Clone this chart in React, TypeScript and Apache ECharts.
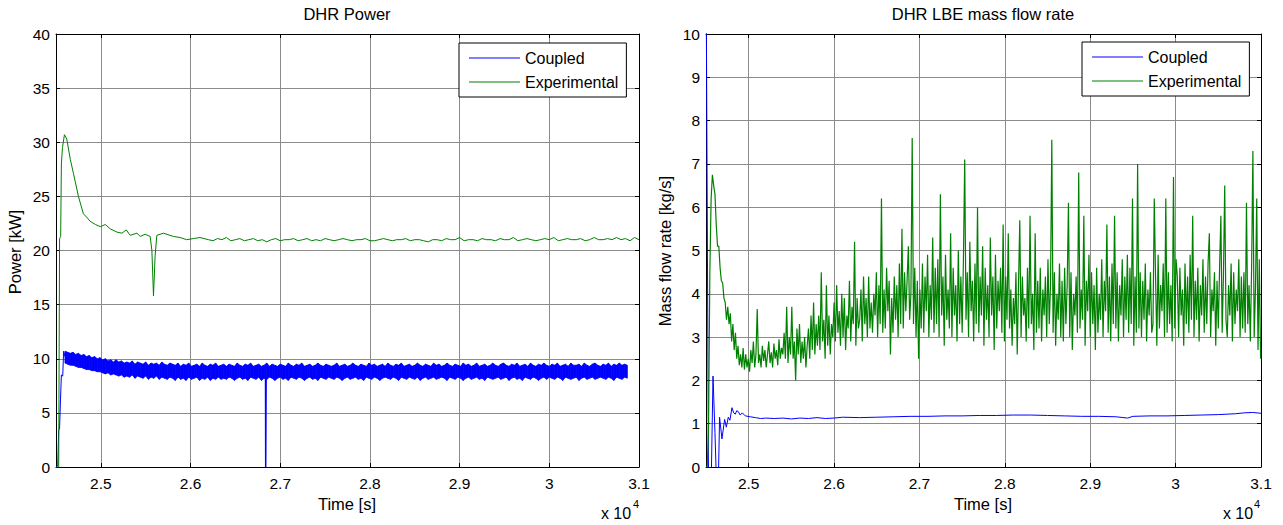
import React, { useEffect, useRef } from "react";
import * as echarts from "echarts";

// ---------- axis ranges ----------
const X_MIN = 24500;
const X_MAX = 31000;
const POWER_TICKS = [0, 5, 10, 15, 20, 25, 30, 35, 40];
const FLOW_TICKS = [0, 1, 2, 3, 4, 5, 6, 7, 8, 9, 10];
const X_TICK_LABELS = ["2.5", "2.6", "2.7", "2.8", "2.9", "3", "3.1"];

// ---------- DHR Power : Coupled ----------
const powerCoupledStart: [number, number][] = [
  [24505, 0], [24520, 0.2], [24530, 3.4], [24540, 3.6], [24550, 6.2],
  [24560, 8.5], [24575, 8.4], [24585, 10.7], [24600, 10.2],
];
// oscillation band (fast oscillation of the coupled power), envelopes read every 30 s
const powerBandT0 = 24600;
const powerBandStep = 30;
const powerBandUpper = [
  10.7, 10.6, 10.5, 10.6, 10.4, 10.5, 10.3, 10.4, 10.2, 10.3, 10.1, 10.2, 10.0, 10.1, 9.9, 10.0, 9.8, 9.9, 9.7, 9.9,
  9.7, 9.8, 9.6, 9.7, 9.6, 9.8, 9.5, 9.7, 9.6, 9.5, 9.7, 9.4, 9.6, 9.5, 9.6, 9.4, 9.7, 9.5, 9.4, 9.6,
  9.5, 9.4, 9.6, 9.3, 9.5, 9.4, 9.6, 9.3, 9.4, 9.5, 9.3, 9.6, 9.4, 9.3, 9.5, 9.4, 9.6, 9.3, 9.4, 9.5,
  9.3, 9.5, 9.4, 9.3, 9.6, 9.4, 9.3, 9.5, 9.4, 9.6, 9.3, 9.4, 9.5, 9.3, 9.4, 9.6, 9.3, 9.5, 9.4, 9.3,
  9.5, 9.4, 9.3, 9.6, 9.4, 9.3, 9.5, 9.4, 9.6, 9.3, 9.4, 9.5, 9.3, 9.4, 9.6, 9.4, 9.3, 9.5, 9.4, 9.3,
  9.4, 9.6, 9.3, 9.4, 9.5, 9.3, 9.4, 9.6, 9.4, 9.3, 9.5, 9.4, 9.3, 9.6, 9.4, 9.5, 9.3, 9.4, 9.5, 9.3,
  9.6, 9.4, 9.3, 9.5, 9.4, 9.6, 9.3, 9.4, 9.5, 9.3, 9.4, 9.6, 9.4, 9.3, 9.5, 9.4, 9.3, 9.6, 9.4, 9.5,
  9.3, 9.4, 9.6, 9.4, 9.3, 9.5, 9.4, 9.3, 9.6, 9.4, 9.5, 9.3, 9.4, 9.6, 9.3, 9.4, 9.5, 9.3, 9.4, 9.6,
  9.4, 9.3, 9.5, 9.6, 9.4, 9.3, 9.5, 9.4, 9.6, 9.3, 9.4, 9.5, 9.3, 9.6, 9.4, 9.3, 9.5, 9.4, 9.6, 9.4,
  9.3, 9.5, 9.4, 9.6, 9.3, 9.4, 9.5, 9.3, 9.6, 9.4, 9.4, 9.5, 9.3, 9.6, 9.4, 9.3, 9.5, 9.6, 9.4, 9.3,
  9.5, 9.4, 9.6, 9.3, 9.5, 9.4, 9.6, 9.4, 9.5, 9.4,
];
const powerBandLower = [
  9.6, 9.5, 9.4, 9.4, 9.3, 9.2, 9.2, 9.1, 9.0, 9.0, 8.9, 8.9, 8.8, 8.8, 8.7, 8.6, 8.7, 8.5, 8.6, 8.5,
  8.4, 8.5, 8.3, 8.4, 8.3, 8.5, 8.2, 8.4, 8.3, 8.2, 8.4, 8.1, 8.3, 8.2, 8.4, 8.1, 8.3, 8.2, 8.1, 8.3,
  8.2, 8.0, 8.3, 8.1, 8.2, 8.0, 8.3, 8.1, 8.2, 8.3, 8.0, 8.2, 8.1, 8.3, 8.0, 8.2, 8.1, 8.3, 8.1, 8.2,
  8.1, 8.3, 8.2, 8.0, 8.2, 8.3, 8.1, 8.2, 8.0, 8.3, 8.2, 8.1, 8.3, 8.0, 8.2, 8.1, 8.3, 8.2, 8.0, 8.2,
  8.3, 8.1, 8.2, 8.0, 8.3, 8.2, 8.1, 8.3, 8.2, 8.0, 8.2, 8.3, 8.1, 8.2, 8.0, 8.3, 8.2, 8.1, 8.3, 8.2,
  8.1, 8.3, 8.2, 8.0, 8.2, 8.3, 8.1, 8.2, 8.3, 8.1, 8.2, 8.0, 8.3, 8.2, 8.1, 8.3, 8.2, 8.0, 8.2, 8.3,
  8.2, 8.1, 8.3, 8.2, 8.0, 8.3, 8.2, 8.1, 8.3, 8.2, 8.1, 8.3, 8.0, 8.2, 8.3, 8.1, 8.2, 8.3, 8.1, 8.2,
  8.3, 8.2, 8.0, 8.3, 8.2, 8.1, 8.3, 8.2, 8.0, 8.2, 8.3, 8.1, 8.2, 8.3, 8.1, 8.2, 8.0, 8.3, 8.2, 8.1,
  8.2, 8.3, 8.1, 8.2, 8.3, 8.0, 8.2, 8.3, 8.1, 8.2, 8.0, 8.3, 8.2, 8.1, 8.3, 8.2, 8.0, 8.2, 8.3, 8.1,
  8.3, 8.2, 8.1, 8.3, 8.2, 8.0, 8.3, 8.2, 8.1, 8.2, 8.3, 8.0, 8.2, 8.3, 8.1, 8.2, 8.3, 8.1, 8.2, 8.3,
  8.2, 8.1, 8.3, 8.2, 8.0, 8.3, 8.2, 8.1, 8.3, 8.2,
];
const powerCoupledDrop: [number, number][] = [
  [26836, 8.3], [26838, 0], [26841, 0], [26843, 8.3],
];

// ---------- DHR Power : Experimental ----------
const powerExpStart: [number, number][] = [
  [24505, 0], [24530, 0], [24540, 21.1], [24552, 21.3], [24560, 28.0], [24572, 29.5],
  [24594, 30.7], [24620, 30.3], [24660, 28.4], [24695, 27.1], [24750, 25.0], [24805, 23.4],
  [24850, 23.0], [24880, 22.7], [24940, 22.4], [24994, 22.2], [25050, 22.4], [25105, 22.0],
  [25180, 21.7], [25235, 21.6], [25283, 21.9], [25328, 21.4], [25402, 21.6], [25439, 21.3],
  [25494, 21.5], [25550, 21.3], [25569, 20.0], [25587, 15.8], [25605, 19.5], [25624, 21.4],
  [25698, 21.6], [25809, 21.3], [25883, 21.2], [25957, 21.0], [26031, 21.1], [26105, 21.2],
];
const powerExpFlatT0 = 26150;
const powerExpFlatStep = 50;
const powerExpFlat = [
  21.1, 21.0, 20.9, 21.1, 21.0, 21.2, 20.9, 21.0, 21.1, 20.9,
  21.0, 21.1, 20.9, 21.0, 20.8, 21.0, 21.1, 20.9, 21.0, 21.0,
  21.1, 20.9, 21.0, 21.1, 20.9, 21.0, 20.9, 21.1, 21.0, 20.9,
  21.0, 21.1, 21.0, 20.9, 21.0, 21.0, 21.1, 20.9, 20.9, 21.0,
  21.1, 21.0, 20.9, 21.0, 21.0, 21.1, 20.9, 21.0, 21.0, 20.9,
  20.8, 21.0, 21.0, 20.9, 21.1, 21.0, 21.0, 21.2, 20.9, 21.0,
  21.0, 20.9, 21.1, 21.0, 21.0, 20.9, 21.1, 21.0, 21.0, 21.2,
  20.9, 21.0, 21.1, 21.0, 20.9, 21.0, 21.1, 21.0, 21.2, 20.9,
  21.0, 21.1, 21.0, 21.0, 21.1, 20.9, 21.0, 21.2, 21.0, 21.0,
  21.1, 21.0, 21.2, 21.0, 21.1, 20.9, 21.2, 21.0,
];

// ---------- DHR LBE mass flow rate : Coupled ----------
const flowCoupled: [number, number][] = [
  [24500, 12], [24530, -0.5], [24560, -0.5], [24582, 2.1], [24605, 0.8], [24625, -0.5],
  [24645, -0.3], [24659, 1.15], [24687, 0.65], [24718, 1.1], [24738, 0.92], [24761, 1.15],
  [24780, 1.08], [24804, 1.37], [24825, 1.25], [24843, 1.22], [24860, 1.3], [24878, 1.28],
  [24900, 1.2], [24925, 1.25], [24960, 1.18], [25020, 1.16], [25080, 1.14], [25140, 1.12],
  [25200, 1.13], [25300, 1.12], [25400, 1.13], [25500, 1.11], [25600, 1.13], [25700, 1.12],
  [25800, 1.14], [25900, 1.12], [26000, 1.13], [26100, 1.15], [26300, 1.14], [26500, 1.15],
  [26700, 1.16], [26900, 1.17], [27100, 1.17], [27300, 1.18], [27500, 1.18], [27700, 1.19],
  [27900, 1.19], [28100, 1.2], [28300, 1.2], [28500, 1.19], [28700, 1.18], [28900, 1.17],
  [29100, 1.17], [29300, 1.16], [29437, 1.13], [29500, 1.17], [29700, 1.18], [29900, 1.18],
  [30100, 1.19], [30300, 1.2], [30500, 1.21], [30700, 1.23], [30800, 1.25], [30900, 1.26],
  [31000, 1.24],
];

// ---------- DHR LBE mass flow rate : Experimental ----------
const flowExpT0 = 24500;
const flowExpStep = 15;
const flowExp = [
  0, 0, 1.0, 4.5, 6.2, 6.75, 6.5, 6.3, 5.6, 5.1, 5.1, 4.6, 4.3, 4.25, 3.9, 3.8, 3.4, 3.7, 3.3, 3.55,
  2.9, 3.3, 2.7, 3.1, 2.5, 2.8, 2.35, 2.6, 2.3, 2.75, 2.25, 2.6, 2.3, 2.5, 2.2, 2.7, 2.4, 2.9, 2.3, 2.6,
  3.65, 2.4, 2.6, 2.3, 2.8, 2.45, 2.7, 2.3, 2.6, 2.9, 2.4, 2.65, 2.3, 2.85, 2.5, 2.7, 2.35, 2.95, 2.5, 2.75,
  2.6, 3.1, 2.5, 3.7, 2.4, 3.0, 2.6, 3.7, 2.5, 2.9, 2.0, 3.2, 2.6, 3.3, 2.4, 2.9, 2.5, 3.0, 2.3, 2.8,
  3.2, 2.5, 3.5, 2.7, 3.8, 2.6, 3.3, 2.8, 3.5, 2.7, 4.5, 2.9, 3.4, 2.5, 4.2, 2.8, 3.5, 2.6, 3.3, 3.0,
  3.8, 2.9, 4.2, 3.1, 3.6, 2.8, 4.0, 3.0, 3.9, 2.7, 3.5, 3.2, 4.3, 2.9, 3.7, 3.3, 5.2, 2.8, 3.9, 3.2,
  3.4, 4.1, 2.9, 4.4, 3.3, 3.9, 3.0, 4.4, 3.2, 3.8, 3.1, 4.0, 3.5, 4.5, 3.0, 4.2, 3.3, 6.2, 3.1, 4.1,
  3.2, 4.6, 3.6, 4.3, 2.6, 3.9, 3.1, 4.4, 3.4, 4.2, 3.0, 4.7, 3.3, 5.5, 3.2, 4.5, 3.6, 4.3, 5.1, 3.4,
  4.0, 7.6, 3.3, 4.6, 3.0, 4.3, 2.5, 4.1, 3.2, 4.7, 3.1, 4.4, 3.6, 4.9, 3.0, 4.2, 3.4, 5.3, 3.1, 4.6,
  3.3, 4.8, 3.0, 6.3, 3.5, 4.4, 2.8, 4.9, 3.4, 4.1, 3.2, 5.4, 3.0, 4.6, 3.5, 4.2, 2.9, 5.0, 3.3, 4.4,
  3.1, 4.8, 7.1, 3.4, 4.5, 3.0, 5.2, 3.6, 4.3, 2.9, 4.7, 3.3, 6.0, 3.1, 4.4, 3.5, 5.1, 2.8, 4.6, 3.4,
  4.2, 3.0, 5.3, 3.5, 4.4, 2.7, 4.9, 3.2, 4.3, 3.6, 4.6, 3.1, 5.6, 2.9, 4.4, 3.4, 5.4, 3.2, 4.1, 2.8,
  3.9, 3.3, 4.5, 2.6, 4.2, 5.7, 3.0, 4.4, 3.5, 3.9, 2.9, 4.6, 3.2, 5.8, 3.3, 4.0, 2.7, 5.4, 3.1, 4.3,
  3.2, 4.6, 2.9, 4.1, 3.5, 4.4, 3.0, 4.8, 3.3, 4.2, 7.56, 3.1, 4.5, 2.8, 4.0, 3.4, 4.7, 3.0, 4.3, 2.9,
  4.6, 3.3, 4.2, 6.1, 3.0, 4.5, 2.7, 4.0, 3.5, 4.4, 3.1, 6.8, 3.2, 4.1, 3.4, 5.8, 2.8, 4.3, 3.6, 4.9,
  3.0, 4.5, 3.3, 4.2, 2.7, 4.6, 3.1, 4.0, 3.4, 4.8, 3.0, 4.3, 3.6, 5.6, 3.1, 4.4, 2.9, 4.7, 3.3, 5.8,
  3.2, 4.5, 2.9, 4.2, 3.5, 4.8, 3.0, 4.4, 3.4, 4.9, 3.1, 4.6, 3.3, 6.2, 2.8, 4.4, 3.1, 7.0, 3.2, 4.5,
  3.0, 4.3, 3.4, 4.7, 2.9, 4.1, 3.5, 4.5, 3.1, 3.3, 6.2, 4.4, 2.8, 4.9, 3.2, 4.2, 3.6, 4.7, 3.0, 6.2,
  3.1, 4.5, 3.3, 4.2, 2.9, 6.7, 3.2, 4.8, 4.4, 3.0, 4.6, 3.5, 4.1, 2.8, 4.7, 3.3, 4.4, 3.1, 4.9, 3.4,
  5.8, 3.0, 4.3, 3.4, 4.6, 2.9, 4.2, 3.5, 4.8, 3.1, 4.4, 3.3, 4.7, 5.4, 3.0, 4.1, 3.6, 4.5, 2.8, 4.3,
  3.2, 4.6, 5.8, 3.1, 4.4, 6.5, 3.4, 3.0, 4.2, 3.5, 4.7, 2.9, 4.5, 3.3, 4.1, 3.6, 4.8, 3.0, 4.4, 3.2,
  4.5, 3.1, 6.1, 3.3, 4.2, 2.9, 4.6, 7.3, 3.0, 4.1, 6.2, 2.7, 4.8, 2.5,
];

const BLUE = "#0000ff";
const GREEN = "#008000";
const FONT = "'Liberation Sans', Arial, sans-serif";

function seq(t0: number, step: number, vals: number[]): [number, number][] {
  return vals.map((v, i) => [t0 + i * step, v] as [number, number]);
}

export default function App() {
  const ref = useRef<HTMLDivElement>(null);

  useEffect(() => {
    if (!ref.current) return;
    const chart = echarts.init(ref.current, undefined, { renderer: "svg" });

    // band segments: [t0, lower0, upper0, t1, lower1, upper1]
    const bandSegments: number[][] = [];
    for (let i = 0; i < powerBandUpper.length - 1; i++) {
      bandSegments.push([
        powerBandT0 + i * powerBandStep, powerBandLower[i], powerBandUpper[i],
        powerBandT0 + (i + 1) * powerBandStep, powerBandLower[i + 1], powerBandUpper[i + 1],
      ]);
    }
    const powerExp = [...powerExpStart, ...seq(powerExpFlatT0, powerExpFlatStep, powerExpFlat)];
    const flowExpData = seq(flowExpT0, flowExpStep, flowExp);

    const xLabel = (v: number) => {
      if (v % 1000 !== 0) return "";
      const s = String(v / 10000);
      return X_TICK_LABELS.includes(s) ? s : "";
    };

    const tick = { inside: true, length: 4, lineStyle: { color: "#000", width: 1 } };
    const axLine = { show: true, onZero: false, lineStyle: { color: "#000", width: 1 } };
    const split = { show: true, lineStyle: { color: "#8c8c8c", width: 1 } };
    const label = { color: "#000", fontSize: 15.5, fontFamily: FONT };

    const mkX = (gridIndex: number, top: boolean) => ({
      type: "value",
      gridIndex,
      position: top ? "top" : "bottom",
      min: X_MIN,
      max: X_MAX,
      splitNumber: 6,
      axisLine: axLine,
      axisTick: tick,
      splitLine: top ? { show: false } : split,
      axisLabel: top
        ? { show: false }
        : { ...label, margin: 8, formatter: xLabel, showMinLabel: false },
    });
    const mkY = (gridIndex: number, right: boolean, ticks: number[]) => ({
      type: "value",
      gridIndex,
      position: right ? "right" : "left",
      min: ticks[0],
      max: ticks[ticks.length - 1],
      interval: ticks[1] - ticks[0],
      axisLine: axLine,
      axisTick: tick,
      splitLine: right ? { show: false } : split,
      axisLabel: right ? { show: false } : { ...label, margin: 6 },
    });

    const legendBase = {
      orient: "vertical",
      icon: "rect",
      itemWidth: 51,
      itemHeight: 1,
      itemGap: 8,
      padding: [7, 8, 7, 10],
      borderColor: "#000",
      borderWidth: 1,
      backgroundColor: "#fff",
      textStyle: { fontSize: 16, lineHeight: 16, fontFamily: FONT, color: "#000" },
      data: ["Coupled", "Experimental"],
      selectedMode: false,
    };

    const txt = (x: number, y: number, text: string, size: number, extra: any = {}) => ({
      type: "text",
      x,
      y,
      z: 50,
      ...extra,
      style: {
        text,
        fill: "#000",
        fontSize: size,
        fontFamily: FONT,
        textAlign: "center",
        textVerticalAlign: "middle",
        ...(extra.style || {}),
      },
    });

    const lineSeries = (name: string, x: number, y: number, data: any, color: string, extra: any = {}) => ({
      name,
      type: "line",
      xAxisIndex: x,
      yAxisIndex: y,
      data,
      symbol: "none",
      showSymbol: false,
      clip: true,
      lineStyle: { color, width: 1 },
      itemStyle: { color },
      emphasis: { disabled: true },
      ...extra,
    });

    chart.setOption({
      animation: false,
      backgroundColor: "#fff",
      grid: [
        { left: 56, top: 34, width: 583, height: 433 },
        { left: 706, top: 34, width: 555, height: 433 },
      ],
      xAxis: [mkX(0, false), mkX(0, true), mkX(1, false), mkX(1, true)],
      yAxis: [
        mkY(0, false, POWER_TICKS),
        mkY(0, true, POWER_TICKS),
        mkY(1, false, FLOW_TICKS),
        mkY(1, true, FLOW_TICKS),
      ],
      legend: [
        { ...legendBase, left: 459, top: 43 },
        { ...legendBase, left: 1082, top: 42 },
      ],
      series: [
        lineSeries("Coupled", 0, 0, powerCoupledStart, BLUE),
        {
          name: "Coupled",
          type: "custom",
          xAxisIndex: 0,
          yAxisIndex: 0,
          data: bandSegments,
          encode: { x: [0, 3], y: [1, 2, 4, 5] },
          clip: true,
          renderItem: (_params: any, api: any) => {
            const p0l = api.coord([api.value(0), api.value(1)]);
            const p0u = api.coord([api.value(0), api.value(2)]);
            const p1l = api.coord([api.value(3), api.value(4)]);
            const p1u = api.coord([api.value(3), api.value(5)]);
            return {
              type: "polygon",
              shape: { points: [p0l, p1l, p1u, p0u] },
              style: { fill: BLUE, stroke: BLUE, lineWidth: 0.8 },
            };
          },
        },
        lineSeries("Coupled", 0, 0, powerCoupledDrop, BLUE, { lineStyle: { color: BLUE, width: 1.5 } }),
        lineSeries("Experimental", 0, 0, powerExp, GREEN),
        lineSeries("Coupled", 2, 2, flowCoupled, BLUE),
        lineSeries("Experimental", 2, 2, flowExpData, GREEN, { lineStyle: { color: GREEN, width: 1.2 } }),
      ],
      graphic: [
        txt(347, 14, "DHR Power", 16.5),
        txt(983, 14, "DHR LBE mass flow rate", 16.5),
        txt(347, 504, "Time [s]", 16.5),
        txt(983, 504, "Time [s]", 16.5),
        txt(15, 252, "Power [kW]", 16.5, { rotation: Math.PI / 2 }),
        txt(665, 251, "Mass flow rate [kg/s]", 16.5, { rotation: Math.PI / 2 }),
        txt(616, 513, "x 10", 16),
        txt(636, 504, "4", 11),
        txt(1238, 513, "x 10", 16),
        txt(1257, 504, "4", 11),
      ],
    });

    return () => chart.dispose();
  }, []);

  return (
    <div
      ref={ref}
      style={{ position: "fixed", left: 0, top: 0, width: 1283, height: 525 }}
    />
  );
}
